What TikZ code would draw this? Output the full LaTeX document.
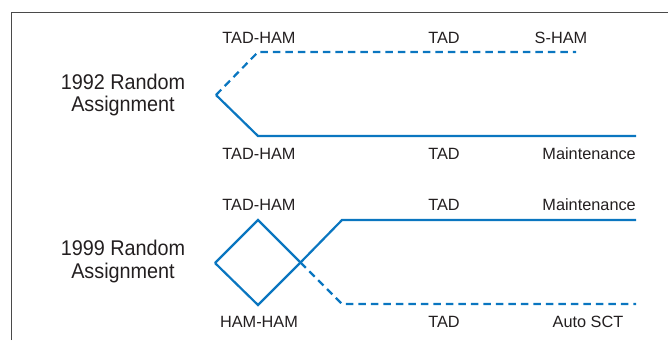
\documentclass[tikz,border=0pt]{standalone}
\usepackage{fontspec}
\setmainfont{Liberation Sans}
\newfontfamily\condfont[FakeStretch=0.93]{Liberation Sans}
\definecolor{pathblue}{HTML}{0A76C0}
\definecolor{inkgray}{HTML}{231F20}
\definecolor{framegray}{HTML}{4A4A4A}
\begin{document}
\begin{tikzpicture}[x=1pt,y=-1pt,
  track/.style={draw=pathblue,line width=2.2pt,line join=miter},
  trackdash/.style={track,dash pattern=on 7.5pt off 5pt},
  lbl/.style={anchor=base,inner sep=0pt,text=inkgray,font=\fontsize{16.3}{18}\selectfont},
  grp/.style={anchor=base,inner sep=0pt,text=inkgray,font=\condfont\fontsize{21.3}{24}\selectfont}]
\useasboundingbox (0,0) rectangle (668,340);
% frame (top and left edges)
\draw[framegray,line width=1.3pt] (11.5,340) -- (11.5,12.7) -- (668,12.7);

% ---- 1992 group
\node[grp] (g92a) at (123,89.3) {1992 Random};
\node[grp] (g92b) at (123,111) {Assignment};
\coordinate (s92) at (216,95);
\coordinate (u92) at (258,52);
\coordinate (ue92) at (576,52);
\coordinate (d92) at (258,136);
\coordinate (de92) at (636,136);
\draw[trackdash] (s92) -- (u92) -- (ue92);
\draw[track] (s92) -- (d92) -- (de92);
\node[lbl] (t92a) at (259,43.3) {TAD-HAM};
\node[lbl] (t92b) at (444,43.3) {TAD};
\node[lbl] (t92c) at (561,43.3) {S-HAM};
\node[lbl] (b92a) at (259,159.3) {TAD-HAM};
\node[lbl] (b92b) at (444,159.3) {TAD};
\node[lbl,anchor=base east] (b92c) at (636,159.3) {Maintenance};

% ---- 1999 group
\node[grp] (g99a) at (123,255.7) {1999 Random};
\node[grp] (g99b) at (123,278) {Assignment};
\coordinate (s99) at (215,263);
\coordinate (u99) at (258,220);
\coordinate (d99) at (258,305);
\coordinate (x99) at (300.5,262.5);
\coordinate (ur99) at (342,220);
\coordinate (dr99) at (342,304);
\coordinate (ue99) at (636,220);
\coordinate (de99) at (636,304);
\draw[track] (s99) -- (u99) -- (x99);
\draw[track] (s99) -- (d99) -- (x99) -- (ur99) -- (ue99);
\draw[trackdash] (x99) -- (dr99) -- (de99);
\node[lbl] (t99a) at (259,210.7) {TAD-HAM};
\node[lbl] (t99b) at (444,210.7) {TAD};
\node[lbl,anchor=base east] (t99c) at (636,210.7) {Maintenance};
\node[lbl] (b99a) at (259,327.3) {HAM-HAM};
\node[lbl] (b99b) at (444,327.3) {TAD};
\node[lbl] (b99c) at (588,327.3) {Auto SCT};
\end{tikzpicture}
\end{document}
